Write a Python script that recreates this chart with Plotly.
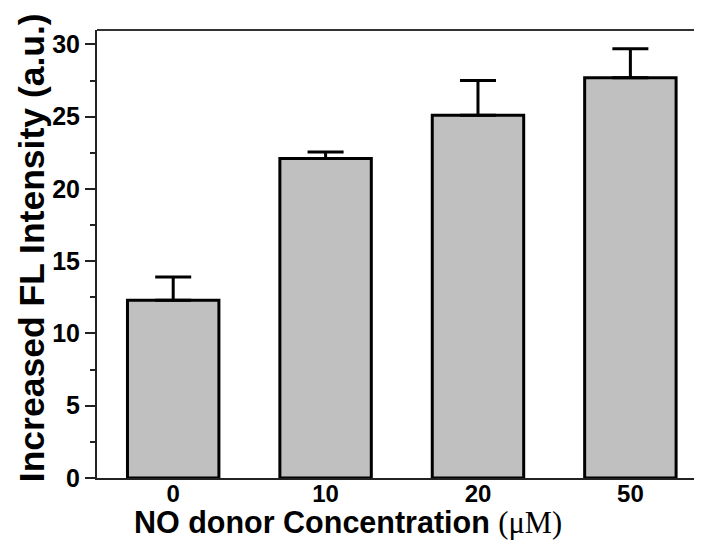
import plotly.graph_objects as go

categories = ["0", "10", "20", "50"]
values = [12.3, 22.1, 25.1, 27.7]
errors = [1.6, 0.45, 2.4, 2.0]
y_ticks = [0, 5, 10, 15, 20, 25, 30]

fig = go.Figure()
fig.add_trace(go.Bar(
    x=list(range(len(categories))),
    y=values,
    width=0.6,
    marker=dict(color="#c0c0c0", line=dict(color="#000000", width=3)),
    error_y=dict(type="data", array=errors, arrayminus=[0] * len(errors),
                 symmetric=False, color="#000000", thickness=3, width=18),
))

# The page body adds an 8px offset, so the figure is sized to fill the rest of the window.
fig.update_layout(
    width=694, height=538,
    margin=dict(l=89, r=0, t=21.5, b=67.7, autoexpand=False),
    plot_bgcolor="white", paper_bgcolor="white",
    showlegend=False,
    font=dict(family="Liberation Sans, Arial", color="#000000"),
    xaxis=dict(
        range=[-0.5, 3.47], automargin=False,
        tickmode="array", tickvals=list(range(len(categories))), ticktext=categories,
        showline=True, linecolor="#222222", linewidth=2,
        ticks="", showgrid=False, zeroline=False, ticklabelstandoff=-7,
        tickfont=dict(size=24, family="Liberation Sans, Arial", weight="bold"),
    ),
    yaxis=dict(
        range=[0, 31], automargin=False,
        tickmode="array", tickvals=y_ticks,
        showline=True, linecolor="#222222", linewidth=2,
        ticks="outside", ticklen=10, tickwidth=2, tickcolor="#222222",
        minor=dict(dtick=2.5, ticks="outside", ticklen=5, tickwidth=2, tickcolor="#222222", showgrid=False),
        showgrid=False, zeroline=False,
        tickfont=dict(size=25, family="Liberation Sans, Arial", weight="bold"),
    ),
    shapes=[dict(type="line", xref="paper", yref="paper", x0=0, x1=1, y0=1, y1=1,
                 line=dict(color="#333333", width=2))],
    annotations=[
        dict(text="NO donor Concentration <span style=\"font-family:'Liberation Serif', 'Times New Roman';font-weight:normal\">(μM)</span>",
             xref="paper", yref="paper", x=0.4157, y=0, xanchor="center", yanchor="middle",
             yshift=-44, showarrow=False,
             font=dict(size=30.5, family="Liberation Sans, Arial", weight="bold", color="#000000")),
        dict(text="Increased FL Intensity (a.u.)",
             xref="paper", yref="paper", x=0, y=0.513, xanchor="center", yanchor="middle",
             xshift=-65, textangle=-90, showarrow=False,
             font=dict(size=35.5, family="Liberation Sans, Arial", weight="bold", color="#000000")),
    ],
)

fig.write_html("out.html")
